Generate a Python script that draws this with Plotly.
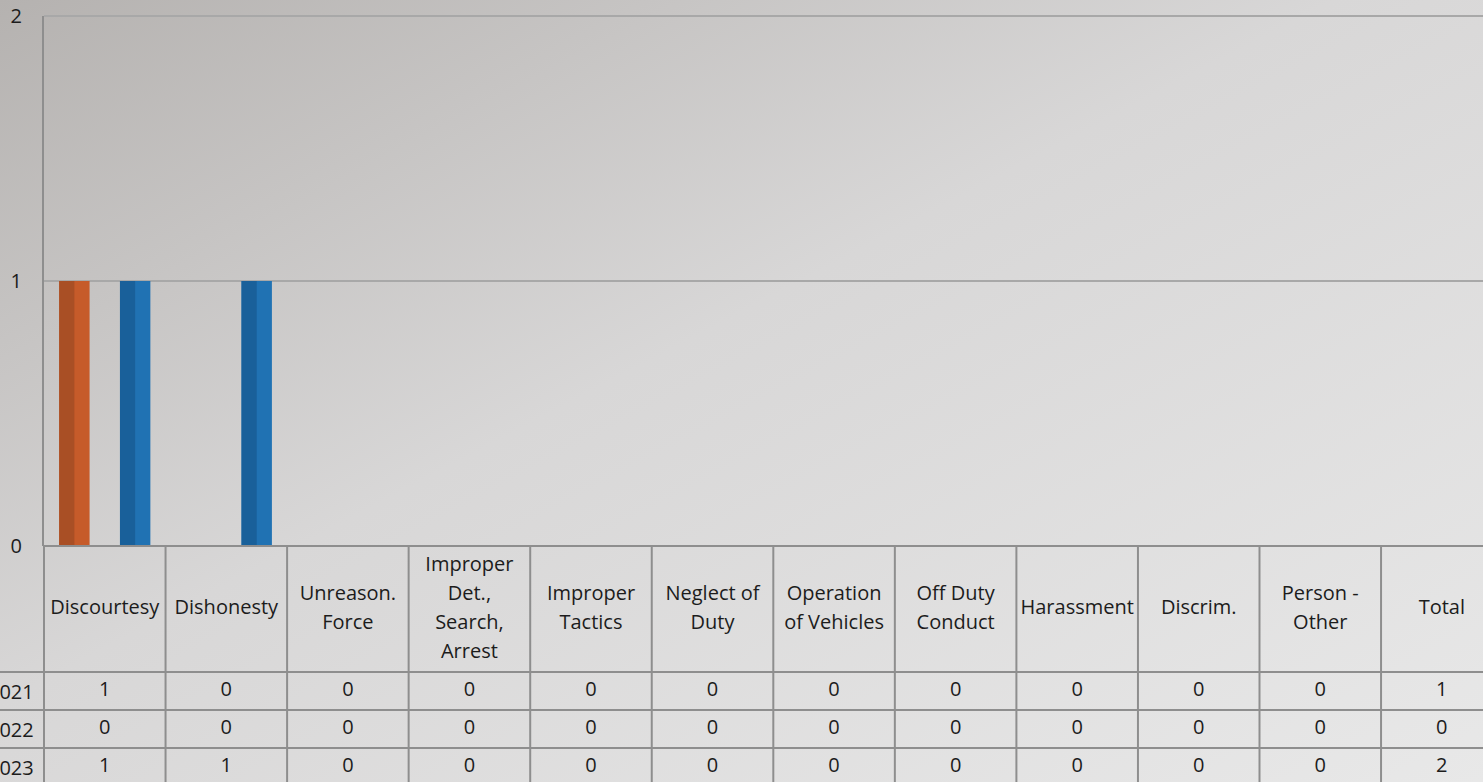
import base64
import plotly.graph_objects as go

# ---------------- data ----------------
categories = ["Discourtesy", "Dishonesty", "Unreason.<br>Force",
              "Improper<br>Det.,<br>Search,<br>Arrest", "Improper<br>Tactics",
              "Neglect of<br>Duty", "Operation<br>of Vehicles", "Off Duty<br>Conduct",
              "Harassment", "Discrim.", "Person -<br>Other", "Total"]
years = ["2021", "2022", "2023"]
counts_2021 = [1, 0, 0, 0, 0, 0, 0, 0, 0, 0, 0]
counts_2022 = [0, 0, 0, 0, 0, 0, 0, 0, 0, 0, 0]
counts_2023 = [1, 1, 0, 0, 0, 0, 0, 0, 0, 0, 0]
totals = [1, 0, 2]
y_ticks = [0, 1, 2]

series = [counts_2021, counts_2022, counts_2023]
colors_light = ["#C65B2A", "#A5A5A5", "#2072B3"]
colors_dark = ["#A94F25", "#8E8E8E", "#19609A"]

# ---------------- geometry / style ----------------
W, H = 1483, 782
L, T = 44, 16
plot_w, plot_h = W - L, H - T
col_px = 121.55
zero_px = 546
bar_dom0 = (H - zero_px) / plot_h
row_px = 38.0
header_px = 126.0
header_u = header_px / row_px
table_u = (H - zero_px) / row_px
y2_range = [header_u - table_u, header_u]
line_gap_u = 29.0 / row_px
FONT = "Open Sans"
FS = 20
TXT = "#1c1c1c"
GRID = "#8e8e8e"
slot = 0.25  # bar slot width in category units (bargap 0.25 over 3 series)

fig = go.Figure()

for i, (yr, vals) in enumerate(zip(years, series)):
    off = -1.5 * slot + i * slot
    fig.add_trace(go.Bar(x=categories[:len(vals)], y=vals, name=yr,
                         offset=off, width=slot,
                         marker=dict(color=colors_light[i], line=dict(width=0)),
                         showlegend=False, hoverinfo="skip",
                         xaxis="x", yaxis="y"))
    fig.add_trace(go.Bar(x=categories[:len(vals)], y=vals, name=yr + " shade",
                         offset=off, width=slot * 0.5,
                         marker=dict(color=colors_dark[i], line=dict(width=0)),
                         showlegend=False, hoverinfo="skip",
                         xaxis="x", yaxis="y"))

for i, (yr, vals) in enumerate(zip(years, series)):
    row_vals = list(vals) + [totals[i]]
    fig.add_trace(go.Scatter(x=categories, y=[-(i + 0.5)] * len(categories),
                             text=[str(v) for v in row_vals], mode="text",
                             textfont=dict(family=FONT, size=FS, color=TXT),
                             textposition="middle center", cliponaxis=False,
                             showlegend=False, hoverinfo="skip",
                             xaxis="x", yaxis="y2"))

hx, hy, ht = [], [], []
for cat in categories:
    lines = cat.split("<br>")
    n = len(lines)
    for j, ln in enumerate(lines):
        hx.append(cat)
        hy.append(header_u / 2 + ((n - 1) / 2 - j) * line_gap_u)
        ht.append(ln)
fig.add_trace(go.Scatter(x=hx, y=hy, text=ht, mode="text",
                         textfont=dict(family=FONT, size=FS, color=TXT),
                         textposition="middle center", cliponaxis=False,
                         showlegend=False, hoverinfo="skip",
                         xaxis="x", yaxis="y2"))

shapes = []
for k in range(1, len(categories) + 1):
    shapes.append(dict(type="line", xref="x", yref="y2", x0=k - 0.5, x1=k - 0.5,
                       y0=y2_range[0], y1=y2_range[1],
                       line=dict(color=GRID, width=2), layer="above"))
shapes.append(dict(type="line", xref="paper", yref="paper", x0=0, x1=0,
                   y0=-0.01, y1=bar_dom0, line=dict(color=GRID, width=2)))
for r in range(0, len(years)):
    shapes.append(dict(type="line", xref="paper", yref="y2", x0=-L / plot_w, x1=1,
                       y0=-r, y1=-r, line=dict(color=GRID, width=2)))
shapes.append(dict(type="line", xref="paper", yref="paper", x0=0, x1=1,
                   y0=bar_dom0, y1=bar_dom0, line=dict(color=GRID, width=2)))
# top gridline (value 2) at the edge of the plot area
shapes.append(dict(type="line", xref="paper", yref="paper", x0=0, x1=1,
                   y0=1, y1=1, line=dict(color="#a8a8a8", width=2)))

annotations = []
for i, yr in enumerate(years):
    annotations.append(dict(text=yr, xref="paper", yref="y2",
                            x=(36 - L) / plot_w, y=-(i + 0.5),
                            xanchor="right", yanchor="middle", showarrow=False,
                            font=dict(family=FONT, size=FS, color=TXT)))

svg = ('<svg xmlns="http://www.w3.org/2000/svg" width="1483" height="782" '
       'viewBox="0 0 1483 782" preserveAspectRatio="none">'
       '<defs><linearGradient id="g" x1="0" y1="0" x2="1" y2="1">'
       '<stop offset="0" stop-color="#b5b2b0"/>'
       '<stop offset="0.45" stop-color="#d8d7d7"/>'
       '<stop offset="1" stop-color="#e8e8e8"/>'
       '</linearGradient></defs>'
       '<rect x="0" y="0" width="1483" height="782" fill="url(#g)"/></svg>')
src = "data:image/svg+xml;base64," + base64.b64encode(svg.encode()).decode()

fig.update_layout(
    width=W, height=H, autosize=False,
    margin=dict(l=L, r=0, t=T, b=0, pad=0, autoexpand=False),
    paper_bgcolor="#d6d5d5", plot_bgcolor="rgba(0,0,0,0)",
    barmode="overlay",
    font=dict(family=FONT, size=FS, color=TXT),
    xaxis=dict(type="category", categoryorder="array", categoryarray=categories,
               range=[-0.5, -0.5 + plot_w / col_px], showticklabels=False,
               showgrid=False, zeroline=False, showline=False, ticks="",
               anchor="y", fixedrange=True, automargin=False, title=None),
    yaxis=dict(domain=[bar_dom0, 1], range=[0, 2], tickvals=y_ticks,
               ticktext=[str(v) for v in y_ticks],
               showgrid=True, gridcolor="#a8a8a8", gridwidth=2,
               zeroline=False, showline=True, linecolor=GRID, linewidth=2,
               ticks="", ticklabelstandoff=16, automargin=False, fixedrange=True,
               tickfont=dict(family=FONT, size=FS, color=TXT), anchor="x"),
    yaxis2=dict(domain=[0, bar_dom0], range=y2_range, visible=False, anchor="x",
                showgrid=False, zeroline=False, automargin=False, fixedrange=True),
    shapes=shapes, annotations=annotations,
    images=[dict(source=src, xref="paper", yref="paper",
                 x=-L / plot_w, y=1 + T / plot_h, sizex=W / plot_w, sizey=H / plot_h,
                 xanchor="left", yanchor="top", sizing="stretch", layer="below")],
)

fig.write_html("out.html",
               config={"displayModeBar": False, "responsive": False},
               post_script="document.body.style.margin='0';"
                           "document.body.style.padding='0';"
                           "document.body.style.overflow='hidden';"
                           "document.documentElement.style.overflow='hidden';")
